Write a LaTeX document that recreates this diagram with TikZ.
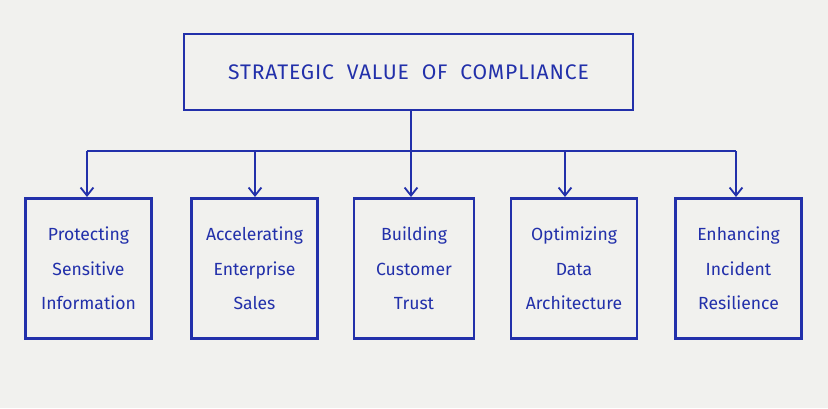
\documentclass[tikz,border=0pt]{standalone}
\usepackage{fontspec}
\setmainfont{Fira Sans}
\usetikzlibrary{arrows.meta}
\definecolor{ink}{RGB}{34,48,170}
\definecolor{paper}{RGB}{241,241,238}

\tikzset{
  box/.style={draw=ink, text=ink, line width=1.5pt, minimum width=3.15cm,
    minimum height=3.5cm, inner sep=0pt, align=center,
    font=\fontsize{12.5}{24.5}\selectfont},
  link/.style={draw=ink, line width=1.3pt},
  arr/.style={link, -{Straight Barb[length=2mm, width=3.2mm]}}
}

\begin{document}
\begin{tikzpicture}[x=0.025cm, y=-0.025cm]
\fill [paper] (0, 0) rectangle (828, 408);
\useasboundingbox (0, 0) rectangle (828, 408);

\node [draw=ink, text=ink, line width=1.5pt, minimum width=11.225cm,
  minimum height=1.9cm, font=\fontsize{15}{18}\selectfont\addfontfeatures{LetterSpace=4}]
  (title) at (408.5, 72) {STRATEGIC\ \ VALUE\ \ OF\ \ COMPLIANCE};

\node [box] (protect) at (88.5, 268.5) {Protecting\\Sensitive\\Information};
\node [box] (sales)   at (254.5, 268.5) {Accelerating\\Enterprise\\Sales};
\node [box, minimum width=3cm] (trust) at (414, 268.5) {Building\\Customer\\Trust};
\node [box] (data)    at (574, 268.5) {Optimizing\\Data\\Architecture};
\node [box] (incident) at (738.5, 268.5) {Enhancing\\Incident\\Resilience};

%%%%%%%%%%%%%%%%%%%%%%%%%%%%%%%%%%%%%%%%

\path (411, 151) coordinate (hub);
\path (87, 151) coordinate (left) (736, 151) coordinate (right);
\draw [link] (title.south -| hub) -- (hub);
\draw [link] (left) -- (right);
\foreach \b/\x in {protect/87, sales/255, trust/411, data/565, incident/736}
  \draw [arr] (\x, 151) -- (\x, 197);

\end{tikzpicture}
\end{document}
